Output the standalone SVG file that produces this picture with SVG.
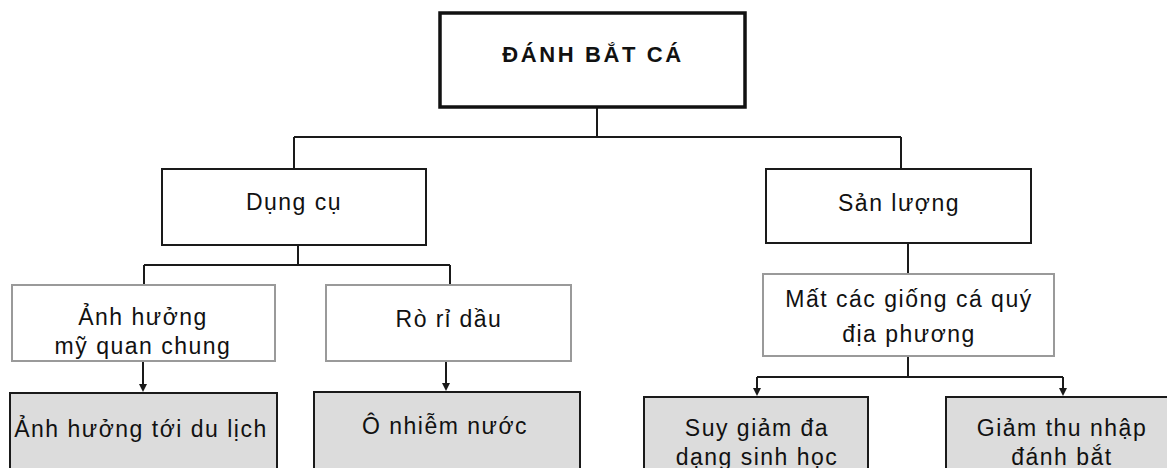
<svg xmlns="http://www.w3.org/2000/svg" width="1167" height="468" viewBox="0 0 1167 468">
<style>
  .t { font-family: "Liberation Sans", Arial, sans-serif; font-size: 23px; letter-spacing: 1.5px; fill: #111; text-anchor: middle; }
  .title { font-family: "Liberation Sans", Arial, sans-serif; font-size: 22px; font-weight: bold; letter-spacing: 2.6px; fill: #111; text-anchor: middle; }
  .box { fill: #fff; stroke: #1a1a1a; stroke-width: 2; }
  .gbox { fill: #fff; stroke: #9a9a9a; stroke-width: 2; }
  .fbox { fill: #dcdcdc; stroke: #1a1a1a; stroke-width: 2; }
  .c { fill: none; stroke: #1a1a1a; stroke-width: 2; }
  .ah { fill: #1a1a1a; }
</style>
<rect width="1167" height="468" fill="#fff"/>
<g id="connectors">
  <path class="c" d="M597 107 V137 M294 137 H901 M294 137 V169 M901 137 V169"/>
  <path class="c" d="M298 245 V265 M144 265 H450 M144 265 V285 M450 265 V285"/>
  <path class="c" d="M908 243 V274"/>
  <path class="c" d="M908 356 V377 M757 377 H1063"/>
  <path class="c" d="M143 361 V385"/>
  <path class="c" d="M446 361 V384"/>
  <path class="c" d="M757 377 V389"/>
  <path class="c" d="M1063 377 V389"/>
  <polygon class="ah" points="139,384 147,384 143,392"/>
  <polygon class="ah" points="442,383 450,383 446,391"/>
  <polygon class="ah" points="753,388 761,388 757,396"/>
  <polygon class="ah" points="1059,388 1067,388 1063,396"/>
</g>
<g id="n-root">
  <rect x="440" y="13" width="305" height="94" fill="#fff" stroke="#111" stroke-width="3.5"/>
  <text class="title" x="593" y="62">ĐÁNH BẮT CÁ</text>
</g>
<g id="n-dungcu">
  <rect class="box" x="162" y="169" width="264" height="76"/>
  <text class="t" x="294" y="210">Dụng cụ</text>
</g>
<g id="n-sanluong">
  <rect class="box" x="766" y="169" width="265" height="74"/>
  <text class="t" x="899" y="211">Sản lượng</text>
</g>
<g id="n-anhhuong">
  <rect class="gbox" x="12" y="285" width="263" height="76"/>
  <text class="t" x="143" y="325">Ảnh hưởng</text>
  <text class="t" x="143" y="354">mỹ quan chung</text>
</g>
<g id="n-rori">
  <rect class="gbox" x="326" y="285" width="245" height="76"/>
  <text class="t" x="449" y="327">Rò rỉ dầu</text>
</g>
<g id="n-dulich">
  <rect class="fbox" x="10" y="393" width="267" height="100"/>
  <text class="t" x="141" y="437">Ảnh hưởng tới du lịch</text>
</g>
<g id="n-onhiem">
  <rect class="fbox" x="314" y="392" width="266" height="100"/>
  <text class="t" x="445" y="434">Ô nhiễm nước</text>
</g>
<g id="n-mat">
  <rect class="gbox" x="763" y="274" width="291" height="82"/>
  <text class="t" x="909" y="307">Mất các giống cá quý</text>
  <text class="t" x="909" y="342">địa phương</text>
</g>
<g id="n-suygiam">
  <rect class="fbox" x="644" y="397" width="224" height="100"/>
  <text class="t" x="757" y="436">Suy giảm đa</text>
  <text class="t" x="757" y="465">dạng sinh học</text>
</g>
<g id="n-giamthu">
  <rect class="fbox" x="946" y="397" width="234" height="100"/>
  <text class="t" x="1062" y="436">Giảm thu nhập</text>
  <text class="t" x="1062" y="465">đánh bắt</text>
</g>
</svg>
